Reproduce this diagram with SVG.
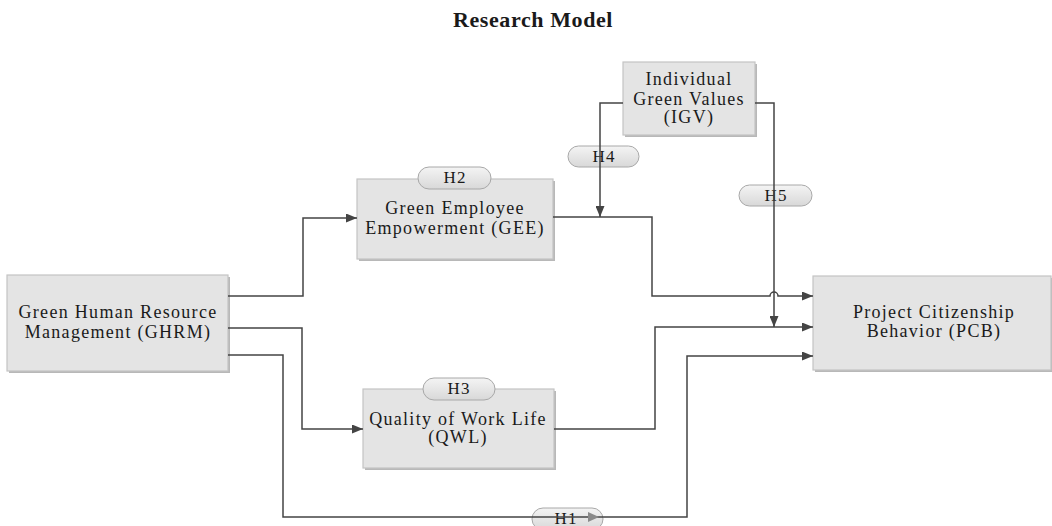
<svg xmlns="http://www.w3.org/2000/svg" width="1052" height="526" viewBox="0 0 1052 526">
<style>
.box{fill:#e4e4e4;stroke:#c4c4c4;stroke-width:1.2}
.shadow{fill:#b8b8b8}
.pill{fill:url(#pg);stroke:#a8a8a8;stroke-width:1}
.t{font-family:"Liberation Serif","Times New Roman",serif;font-size:18px;fill:#1a1a1a;text-anchor:middle;letter-spacing:1.3px}
.h{font-family:"Liberation Serif","Times New Roman",serif;font-size:17px;fill:#1a1a1a;text-anchor:middle;letter-spacing:1px}
.title{font-family:"Liberation Serif","Times New Roman",serif;font-size:22px;font-weight:bold;fill:#1a1a1a;text-anchor:middle;letter-spacing:0.6px}
.c{fill:none;stroke:#444;stroke-width:1.5}
</style>
<defs>
<linearGradient id="pg" x1="0" y1="0" x2="0" y2="1">
<stop offset="0" stop-color="#f4f4f4"/>
<stop offset="1" stop-color="#d8d8d8"/>
</linearGradient>
<marker id="arr" markerUnits="userSpaceOnUse" markerWidth="11" markerHeight="9" refX="11" refY="4.5" orient="auto">
<path d="M0,0 L11,4.5 L0,9 z" fill="#444"/>
</marker>
</defs>
<rect width="1052" height="526" fill="#fff"/>
<text class="title" x="533" y="27">Research Model</text>

<g id="ghrm">
<rect class="shadow" x="9" y="277" width="221" height="96"/>
<rect class="box" x="7" y="275" width="221" height="96"/>
<text class="t" x="118" y="318">Green Human Resource</text>
<text class="t" x="118" y="338">Management (GHRM)</text>
</g>
<g id="gee">
<rect class="shadow" x="359" y="181" width="196" height="80"/>
<rect class="box" x="357" y="179" width="196" height="80"/>
<text class="t" x="455" y="214">Green Employee</text>
<text class="t" x="455" y="234">Empowerment (GEE)</text>
</g>
<g id="qwl">
<rect class="shadow" x="365" y="391" width="191" height="79"/>
<rect class="box" x="363" y="389" width="191" height="79"/>
<text class="t" x="458" y="425">Quality of Work Life</text>
<text class="t" x="458" y="443">(QWL)</text>
</g>
<g id="igv">
<rect class="shadow" x="625" y="64" width="132" height="73"/>
<rect class="box" x="623" y="62" width="132" height="73"/>
<text class="t" x="689" y="85">Individual</text>
<text class="t" x="689" y="105">Green Values</text>
<text class="t" x="689" y="123">(IGV)</text>
</g>
<g id="pcb">
<rect class="shadow" x="815" y="278" width="237" height="94"/>
<rect class="box" x="813" y="276" width="238" height="94"/>
<text class="t" x="934" y="318">Project Citizenship</text>
<text class="t" x="934" y="337">Behavior (PCB)</text>
</g>

<g id="labels">
<g id="h2"><rect class="pill" x="418" y="167" width="73" height="22" rx="11"/><text class="h" x="455" y="183">H2</text></g>
<g id="h3"><rect class="pill" x="423" y="378" width="72" height="22" rx="11"/><text class="h" x="459" y="394">H3</text></g>
<g id="h4"><rect class="pill" x="568" y="146" width="71" height="21" rx="10.5"/><text class="h" x="604" y="162">H4</text></g>
<g id="h5"><rect class="pill" x="739" y="185" width="73" height="21" rx="10.5"/><text class="h" x="776" y="201">H5</text></g>
<g id="h1"><rect class="pill" x="532" y="508" width="71" height="22" rx="11"/><text class="h" x="566" y="524">H1</text></g>
</g>

<g id="connectors">
<path class="c" d="M228,296 H303 V218 H357" marker-end="url(#arr)"/>
<path class="c" d="M228,328 H302 V429 H363" marker-end="url(#arr)"/>
<path class="c" d="M228,355 H283 V517 H687 V356 H813" marker-end="url(#arr)"/>
<path class="c" d="M553,217 H652 V296 H770 A4,4 0 0 1 778,296 H813" marker-end="url(#arr)"/>
<path class="c" d="M554,429 H655 V327 H813" marker-end="url(#arr)"/>
<path class="c" d="M623,103 H600 V217" marker-end="url(#arr)"/>
<path class="c" d="M755,103 H774 V327" marker-end="url(#arr)"/>
<path d="M588,512 L599,517 L588,522 z" fill="#8a8a8a"/>
</g>
</svg>
